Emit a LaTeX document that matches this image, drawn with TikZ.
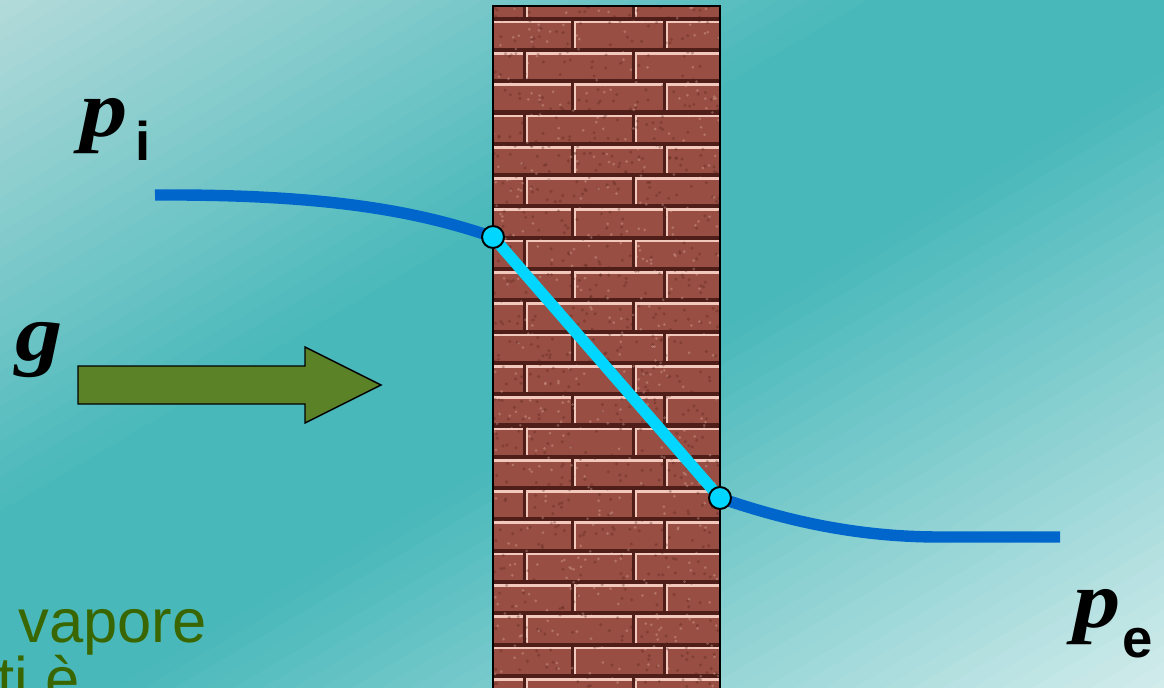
\documentclass[tikz,border=0pt]{standalone}
\usepackage{fontspec}
\setmainfont{Liberation Serif}
\newfontfamily\arialfont{Liberation Sans}
\usetikzlibrary{positioning}

\definecolor{bgcorner}{RGB}{178,218,218}
\definecolor{bgmid}{RGB}{72,184,186}
\definecolor{bgcorner2}{RGB}{212,236,236}
\definecolor{brickface}{RGB}{152,78,66}
\definecolor{brickdark}{RGB}{80,30,24}
\definecolor{brickhi}{RGB}{242,200,188}
\definecolor{profblue}{RGB}{0,102,204}
\definecolor{wallcyan}{RGB}{0,214,255}
\definecolor{fluxgreen}{RGB}{92,130,40}
\definecolor{textgreen}{RGB}{58,102,0}

\begin{document}
\begin{tikzpicture}[x=0.02cm,y=-0.02cm,
		sym/.style={anchor=base west,inner sep=0pt,font=\fontsize{46}{46}\selectfont\bfseries\itshape},
		idx/.style={anchor=base west,inner sep=0pt,font=\fontsize{31}{31}\selectfont\arialfont\bfseries},
		note/.style={anchor=base west,inner sep=0pt,text=textgreen,font=\fontsize{35}{35}\selectfont\arialfont},
		profile/.style={draw=profblue,line width=6.5pt},
		gradline/.style={draw=wallcyan,line width=6.5pt},
		joint/.style={circle,fill=wallcyan,draw=black,line width=1.1pt,inner sep=0pt,minimum size=12.5pt}]
	\useasboundingbox (0,0) rectangle (1164,687);
	\clip (0,0) rectangle (1164,687);

	% diagonal background, pale corners and teal band
	\foreach \t in {-600,-585,...,600}{
		\pgfmathsetmacro\mixa{min(100,max(0,(\t+591)/441*100))}
		\pgfmathsetmacro\mixb{min(100,max(0,(\t-50)/541*100))}
		\ifnum\t<50 \colorlet{band}{bgmid!\mixa!bgcorner}\else \colorlet{band}{bgcorner2!\mixb!bgmid}\fi
		\fill[band] ({582+\t*0.508-900*0.862},{343+\t*0.862+900*0.508})
			-- ({582+\t*0.508+900*0.862},{343+\t*0.862-900*0.508})
			-- ({582+(\t+16)*0.508+900*0.862},{343+(\t+16)*0.862-900*0.508})
			-- ({582+(\t+16)*0.508-900*0.862},{343+(\t+16)*0.862+900*0.508}) -- cycle;
	}

	% brick wall
	\begin{scope}
		\clip (493,6) rectangle (720,700);
		\fill[brickdark] (493,6) rectangle (720,700);
		\foreach \r in {-1,...,21}{
			\pgfmathsetmacro\ya{20+31.3*\r}
			\pgfmathsetmacro\yb{\ya+31.3}
			\pgfmathtruncatemacro\rowodd{mod(\r+2,2)}
			\ifnum\rowodd=1 \def\joints{480/525,525/634,634/740}\else \def\joints{480/573,573/665,665/740}\fi
			\foreach \xa/\xb in \joints{
				\fill[brickface] (\xa+2,\ya+2) rectangle (\xb-2,\yb-3.5);
				\draw[brickhi,line width=1.5pt] (\xa+2,\yb-3.5) -- (\xa+2,\ya+2) -- (\xb-2,\ya+2);
			}
		}
		\pgfmathsetseed{11}
		\foreach \k in {1,...,800}{
			\pgfmathsetmacro\sx{493+227*rnd}
			\pgfmathsetmacro\sy{6+681*rnd}
			\fill[brickdark,opacity=.3] (\sx,\sy) circle (1.7);
		}
		\foreach \k in {1,...,500}{
			\pgfmathsetmacro\sx{493+227*rnd}
			\pgfmathsetmacro\sy{6+681*rnd}
			\fill[brickhi,opacity=.3] (\sx,\sy) circle (1.5);
		}
	\end{scope}
	\draw[black,line width=1.2pt] (493,700) -- (493,6) -- (720,6) -- (720,700);

	% flux arrow
	\draw[fill=fluxgreen,line width=0.8pt] (78,366) -- (305,366) -- (305,347) -- (381,385) -- (305,423) -- (305,404) -- (78,404) -- cycle;

	% pressure profile
	\coordinate (inside) at (155,195);
	\coordinate (tin) at (493,237);
	\coordinate (tout) at (720,498);
	\coordinate (flat) at (940,537);
	\coordinate (outside) at (1060,537);
	\draw[profile] (inside) .. controls (330,194) and (420,212) .. (tin);
	\draw[profile] (tout) .. controls (790,522) and (860,537) .. (flat) -- (outside);
	\draw[gradline] (tin) -- (tout);
	\node[joint] (jin) at (tin) {};
	\node[joint] (jout) at (tout) {};

	\node[sym] (pin) at (80,136) {\scalebox{1.17}[1]{p}};
	\node[idx] (pinsub) at (135,160) {i};
	\node[sym] (flux) at (15,360) {\scalebox{1.17}[1]{g}};
	\node[sym] (pout) at (1073,627) {\scalebox{1.17}[1]{p}};
	\node[idx] (poutsub) at (1122,657) {e};
	\node[note] (vap) at (18,642) {vapore};
	\node[note] (vapnext) at (-3,700) {ti è};
\end{tikzpicture}
\end{document}
